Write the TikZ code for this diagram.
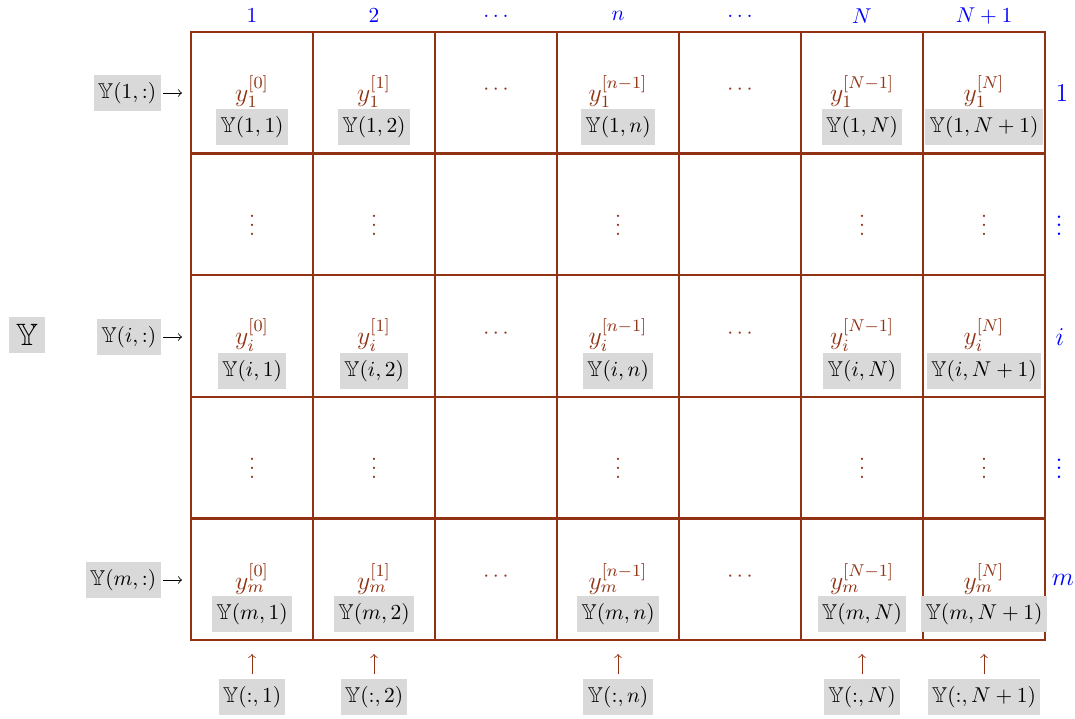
\documentclass[tikz,border=0pt]{standalone}
\usepackage{amssymb}
\definecolor{cellc}{RGB}{145,50,20}
\begin{document}
\begin{tikzpicture}[x=0.4664pt,y=-0.4664pt,
  gbox/.style={fill=gray!30,inner xsep=2pt,inner ysep=3.33pt},
  yv/.style={text=cellc,font=\large,inner sep=0pt,anchor=south},
  dv/.style={text=cellc},
  idx/.style={text=blue},
  ridx/.style={text=blue,font=\large},
  inner line/.style={draw=cellc,line width=1.05pt},
  outer line/.style={draw=cellc,line width=0.5pt},
  rowarrow/.style={->,black,shorten <=1pt},
  colarrow/.style={->,cellc,shorten <=2pt}]
\useasboundingbox (0,0) rectangle (1075,719);

% grid
\foreach \x in {313,435,557,679,801,923}
  \draw[inner line] (\x,32) -- (\x,640);
\foreach \y in {153.6,275.2,396.8,518.4}
  \draw[inner line] (191,\y) -- (1045,\y);
\draw[outer line] (191,32) rectangle (1045,640);

% rows with entries
\foreach \r/\ry/\s in {1/93/1, 3/337/i, 5/580/m}{
  \foreach \c/\cx/\p/\q in {1/252/0/1, 2/374/1/2, 4/618/n-1/n, 6/862/N-1/N, 7/984/N/N+1}{
    \node[yv] (y\r\c) at (\cx,\ry+15) {$y_{\s}^{[\p]}$};
    \node[gbox] (Y\r\c) at (\cx,\ry+34) {$\mathbb{Y}(\s,\q)$};
  }
  \node[dv] (cd\r a) at (496,\ry-3) {$\cdots$};
  \node[dv] (cd\r b) at (740,\ry-3) {$\cdots$};
}

% vdots rows
\foreach \r/\ry in {2/215, 4/458}{
  \foreach \c/\cx in {1/252, 2/374, 4/618, 6/862, 7/984}
    \node[dv] (vd\r\c) at (\cx,\ry+4) {$\vdots$};
}

% top column indices
\node[idx] (t1) at (252,16) {$1$};
\node[idx] (t2) at (374,16) {$2$};
\node[idx] (t3) at (496,16) {$\dots$};
\node[idx] (t4) at (618,16) {$n$};
\node[idx] (t5) at (740,16) {$\dots$};
\node[idx] (t6) at (862,16) {$N$};
\node[idx] (t7) at (984,16) {$N+1$};

% right row indices
\node[ridx] (s1) at (1062,93) {$1$};
\node[ridx] (s2) at (1059,219) {$\vdots$};
\node[ridx] (s3) at (1060,337) {$i$};
\node[ridx] (s4) at (1059,462) {$\vdots$};
\node[ridx] (s5) at (1063,580) {$m$};

% big Y
\node[gbox,font=\Large,inner xsep=3.33pt] (Yall) at (27,335) {$\mathbb{Y}$};

% row labels with arrows
\foreach \r/\ry/\s in {1/93/1, 3/337/i, 5/580/m}{
  \node[gbox,anchor=east] (L\r) at (161,\ry) {$\mathbb{Y}(\s,:)$};
  \coordinate (Le\r) at (182,\ry);
  \draw[rowarrow] (L\r) -- (Le\r);
}

% column labels with arrows
\foreach \c/\cx/\q in {1/252/1, 2/374/2, 4/618/n, 6/862/N, 7/984/N+1}{
  \node[gbox] (B\c) at (\cx,697) {$\mathbb{Y}(:,\q)$};
  \coordinate (Be\c) at (\cx,654);
  \draw[colarrow] (B\c) -- (Be\c);
}
\end{tikzpicture}
\end{document}
